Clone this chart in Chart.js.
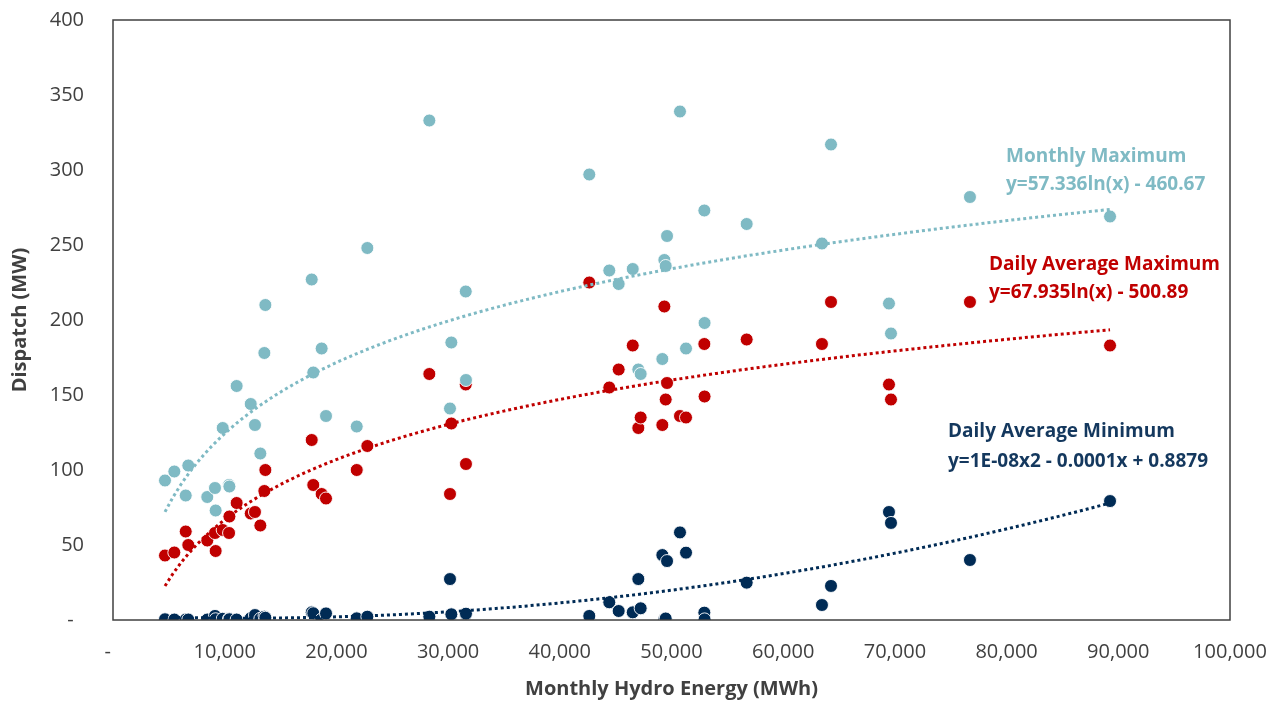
<!DOCTYPE html>
<html>
<head>
<meta charset="utf-8">
<script src="https://cdn.jsdelivr.net/npm/chart.js@4.4.0/dist/chart.umd.min.js"></script>
<style>
  html, body { margin: 0; padding: 0; background: #fff; }
  #wrap { width: 1286px; height: 702px; }
</style>
</head>
<body>
<div id="wrap"><canvas id="myChart"></canvas></div>
<script>
// monthly hydro energy (MWh), one entry per month
const hydroEnergy = [
  4655, 5490, 6510, 6740, 8440, 9130, 9190, 9820, 10390, 10420, 11070, 12330,
  12710, 13190, 13550, 13640, 17790, 17930, 18680, 19070, 21820, 22770, 28320, 30170,
  30290, 31580, 31600, 42640, 44430, 45270, 46530, 47030, 47240, 49180, 49360, 49480,
  49600, 50760, 51300, 52940, 52960, 56730, 63470, 64280, 69470, 69650, 76720, 89260
];
// dispatch (MW)
const monthlyMax = [
  93, 99, 83, 103, 82, 88, 73, 128, 90, 89, 156, 144,
  130, 111, 178, 210, 227, 165, 181, 136, 129, 248, 333, 141,
  185, 219, 160, 297, 233, 224, 234, 167, 164, 174, 240, 236,
  256, 339, 181, 273, 198, 264, 251, 317, 211, 191, 282, 269
];
const dailyAvgMax = [
  43, 45, 59, 50, 53, 58, 46, 60, 58, 69, 78, 71,
  72, 63, 86, 100, 120, 90, 84, 81, 100, 116, 164, 84,
  131, 157, 104, 225, 155, 167, 183, 128, 135, 130, 209, 147,
  158, 136, 135, 184, 149, 187, 184, 212, 157, 147, 212, 183
];
const dailyAvgMin = [
  0.5, 0.3, 0.3, 0.3, 0.3, 2.7, 0.5, 0.8, 0.8, 0.5, 0.3, 1.2,
  3.3, 0.8, 2.2, 1.5, 5.1, 4.5, 0.4, 4.4, 1.1, 2.2, 2.2, 27.3,
  3.8, 3.8, 4.2, 2.7, 11.8, 6, 5.1, 27.3, 7.8, 43.3, 0.4, 1,
  39.3, 58.4, 44.9, 4.9, 0.4, 24.9, 10, 22.7, 72, 64.7, 40, 79.3
];

const seriesNames = ['Monthly Maximum', 'Daily Average Maximum', 'Daily Average Minimum'];
const trendLabels = ['y=57.336ln(x) - 460.67', 'y=67.935ln(x) - 500.89', 'y=1E-08x2 - 0.0001x + 0.8879'];
const colors = ['#7fbac4', '#c00000', '#002b55'];
const labelColors = ['#7fbac4', '#c00000', '#14385e'];

// least squares y = a*ln(x) + b
function fitLog(xs, ys) {
  const n = xs.length;
  let sx = 0, sy = 0, sxx = 0, sxy = 0;
  xs.forEach((x, i) => {
    const l = Math.log(x);
    sx += l; sy += ys[i]; sxx += l * l; sxy += l * ys[i];
  });
  const a = (n * sxy - sx * sy) / (n * sxx - sx * sx);
  const b = (sy - a * sx) / n;
  return (x) => a * Math.log(x) + b;
}

// least squares y = c0 + c1*u + c2*u^2, with u = x / 10000
function fitQuad(xs, ys) {
  const s = [0, 0, 0, 0, 0];
  const t = [0, 0, 0];
  xs.forEach((x, i) => {
    const u = x / 1e4;
    let p = 1;
    for (let k = 0; k < 5; k++) {
      s[k] += p;
      if (k < 3) t[k] += p * ys[i];
      p *= u;
    }
  });
  const m = [
    [s[0], s[1], s[2], t[0]],
    [s[1], s[2], s[3], t[1]],
    [s[2], s[3], s[4], t[2]],
  ];
  for (let c = 0; c < 3; c++) {
    for (let r = c + 1; r < 3; r++) {
      const f = m[r][c] / m[c][c];
      for (let k = c; k < 4; k++) m[r][k] -= f * m[c][k];
    }
  }
  const coef = [0, 0, 0];
  for (let r = 2; r >= 0; r--) {
    let v = m[r][3];
    for (let k = r + 1; k < 3; k++) v -= m[r][k] * coef[k];
    coef[r] = v / m[r][r];
  }
  return (x) => {
    const u = x / 1e4;
    return coef[0] + coef[1] * u + coef[2] * u * u;
  };
}

function trendPoints(fn) {
  const lo = Math.min(...hydroEnergy);
  const hi = Math.max(...hydroEnergy);
  const pts = [];
  for (let i = 0; i <= 120; i++) {
    const x = lo + (hi - lo) * i / 120;
    pts.push({ x: x, y: fn(x) });
  }
  return pts;
}

const toPoints = (ys) => hydroEnergy.map((x, i) => ({ x: x, y: ys[i] }));

const scatterSet = (name, ys, color, order) => ({
  label: name,
  data: toPoints(ys),
  backgroundColor: color,
  borderColor: 'rgba(255,255,255,0.9)',
  borderWidth: 1,
  pointRadius: 6.5,
  pointHoverRadius: 6.5,
  order: order,
});

const trendSet = (name, fn, color) => ({
  type: 'line',
  label: name + ' trend',
  data: trendPoints(fn),
  borderColor: color,
  borderWidth: 3,
  borderDash: [3, 3],
  pointRadius: 0,
  fill: false,
  tension: 0,
  order: 0,
});

const FONT = "'Open Sans', sans-serif";

// text boxes beside the trend lines
const trendTextPlugin = {
  id: 'trendText',
  afterDatasetsDraw(chart) {
    const ctx = chart.ctx;
    const spots = [
      { x: 1006, y: 157, dy: 28 },
      { x: 989, y: 265, dy: 28 },
      { x: 948, y: 432, dy: 30 },
    ];
    ctx.save();
    ctx.font = 'bold 19px ' + FONT;
    ctx.textBaseline = 'middle';
    ctx.textAlign = 'left';
    spots.forEach((s, i) => {
      ctx.fillStyle = labelColors[i];
      ctx.fillText(seriesNames[i], s.x, s.y);
      ctx.fillText(trendLabels[i], s.x, s.y + s.dy);
    });
    ctx.restore();
  },
};

// box around the plot area
const framePlugin = {
  id: 'frame',
  afterDraw(chart) {
    const { ctx, chartArea: { left, top, right, bottom } } = chart;
    ctx.save();
    ctx.strokeStyle = '#404040';
    ctx.lineWidth = 1.5;
    ctx.strokeRect(left, top, right - left, bottom - top);
    ctx.restore();
  },
};

const config = {
  type: 'scatter',
  data: {
    datasets: [
      trendSet(seriesNames[0], fitLog(hydroEnergy, monthlyMax), colors[0]),
      trendSet(seriesNames[1], fitLog(hydroEnergy, dailyAvgMax), colors[1]),
      trendSet(seriesNames[2], fitQuad(hydroEnergy, dailyAvgMin), colors[2]),
      scatterSet(seriesNames[0], monthlyMax, colors[0], 1),
      scatterSet(seriesNames[1], dailyAvgMax, colors[1], 2),
      scatterSet(seriesNames[2], dailyAvgMin, colors[2], 3),
    ],
  },
  options: {
    responsive: true,
    maintainAspectRatio: false,
    animation: false,
    layout: { padding: { top: 20, right: 56, left: 0, bottom: 0 } },
    plugins: {
      legend: { display: false },
      tooltip: { enabled: false },
      title: { display: false },
    },
    scales: {
      x: {
        type: 'linear',
        min: 0,
        max: 100000,
        grid: { display: false, drawTicks: false },
        border: { display: false },
        ticks: {
          stepSize: 10000,
          padding: 20,
          color: '#404040',
          font: { family: FONT, size: 20 },
          callback: (v) => (v === 0 ? '-  ' : v.toLocaleString('en-US')),
        },
        title: {
          display: true,
          text: 'Monthly Hydro Energy (MWh)',
          color: '#404040',
          font: { family: FONT, size: 20, weight: 'bold' },
          padding: { top: 0, bottom: 1 },
        },
        afterFit: (scale) => {
          scale.height = 82;
          scale.paddingLeft = 0;
          scale.paddingRight = 0;
        },
      },
      y: {
        min: 0,
        max: 400,
        grid: { display: false, drawTicks: false },
        border: { display: false },
        ticks: {
          stepSize: 50,
          padding: 29,
          color: '#404040',
          font: { family: FONT, size: 20 },
          callback: (v) => (v === 0 ? '-  ' : v),
        },
        title: {
          display: true,
          text: 'Dispatch (MW)',
          color: '#404040',
          font: { family: FONT, size: 20, weight: 'bold' },
          padding: { top: 8, bottom: 0 },
        },
        afterFit: (scale) => {
          scale.width = 113;
          scale.paddingTop = 0;
          scale.paddingBottom = 0;
        },
      },
    },
  },
  plugins: [trendTextPlugin, framePlugin],
};

const ctx = document.getElementById('myChart');
const chart = new Chart(ctx, config);
</script>
</body>
</html>
